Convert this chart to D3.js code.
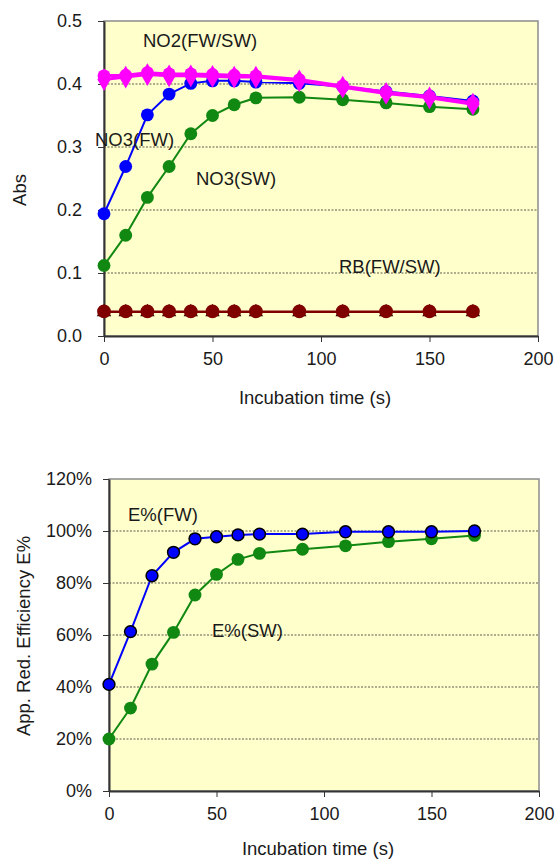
<!DOCTYPE html>
<html lang="en">
<head>
<meta charset="utf-8">
<style>
  body { margin: 0; background: #fff; }
  text { font-family: "Liberation Sans", Arial, sans-serif; fill: #1a1a1a; }
  .grid line { stroke: #333; stroke-dasharray: 2,1.5; stroke-width: 0.8; }
  .axis path, .axis line { stroke: #333; }
</style>
<script src="https://cdn.jsdelivr.net/npm/d3@7"></script>
</head>
<body>
<svg width="557" height="859"></svg>
<script>
// incubation times (s)
var times = [0, 10, 20, 30, 40, 50, 60, 70, 90, 110, 130, 150, 170];

// top chart: absorbance
var no2FW = [0.413, 0.414, 0.418, 0.416, 0.416, 0.415, 0.414, 0.413, 0.407, 0.397, 0.387, 0.380, 0.370];
var no2SW = [0.407, 0.411, 0.415, 0.413, 0.413, 0.412, 0.411, 0.411, 0.405, 0.395, 0.385, 0.378, 0.368];
var no3FW = [0.194, 0.269, 0.351, 0.384, 0.401, 0.405, 0.405, 0.403, 0.401, 0.396, 0.388, 0.381, 0.373];
var no3SW = [0.112, 0.160, 0.220, 0.269, 0.321, 0.350, 0.367, 0.378, 0.379, 0.375, 0.370, 0.364, 0.360];
var rbFW  = [0.039, 0.039, 0.039, 0.039, 0.039, 0.039, 0.039, 0.039, 0.039, 0.039, 0.039, 0.039, 0.039];
var rbSW  = [0.038, 0.038, 0.038, 0.038, 0.038, 0.038, 0.038, 0.038, 0.038, 0.038, 0.038, 0.038, 0.038];

// bottom chart: apparent reduction efficiency
var effFW = [0.41, 0.613, 0.828, 0.918, 0.970, 0.978, 0.985, 0.988, 0.988, 0.997, 0.997, 0.997, 1.0];
var effSW = [0.20, 0.319, 0.488, 0.610, 0.754, 0.833, 0.891, 0.914, 0.930, 0.943, 0.959, 0.970, 0.983];

var xTicks = [0, 50, 100, 150, 200];
var absTicks = [0, 0.1, 0.2, 0.3, 0.4, 0.5];
var effTicks = [0, 0.2, 0.4, 0.6, 0.8, 1.0, 1.2];

var svg = d3.select("svg");

function zip(ys) { return times.map(function(t, i) { return [t, ys[i]]; }); }

function panel(box, yDomain, yTicks, yFmt, yPad, titleOff) {
  var x = d3.scaleLinear().domain([0, 200]).range([box.left, box.right]);
  var y = d3.scaleLinear().domain(yDomain).range([box.bottom, box.top]);
  var g = svg.append("g");

  g.append("rect")
    .attr("x", box.left).attr("y", box.top)
    .attr("width", box.right - box.left).attr("height", box.bottom - box.top)
    .attr("fill", "#ffffcc").attr("stroke", "#8c8c8c").attr("stroke-width", 1.5);

  g.append("g").attr("class", "grid")
    .selectAll("line").data(yTicks.slice(1, -1)).enter().append("line")
    .attr("x1", box.left).attr("x2", box.right)
    .attr("y1", function(d) { return y(d); }).attr("y2", function(d) { return y(d); });

  var ax = g.append("g").attr("class", "axis")
    .attr("transform", "translate(0," + box.bottom + ")")
    .call(d3.axisBottom(x).tickValues(xTicks).tickSize(6).tickPadding(10).tickSizeOuter(0));
  var ay = g.append("g").attr("class", "axis")
    .attr("transform", "translate(" + box.left + ",0)")
    .call(d3.axisLeft(y).tickValues(yTicks).tickFormat(yFmt).tickSize(6).tickPadding(yPad).tickSizeOuter(0));
  [ax, ay].forEach(function(a) {
    a.select(".domain").attr("stroke-width", 2);
    a.selectAll("text").attr("font-size", 18).attr("fill", "#222")
      .style("font-family", "'Liberation Sans', Arial, sans-serif");
  });

  g.append("text")
    .attr("x", (box.left + box.right) / 2 - 6).attr("y", box.bottom + titleOff)
    .attr("text-anchor", "middle").attr("font-size", 18.5)
    .text("Incubation time (s)");
  return { g: g, x: x, y: y };
}

function series(p, ys, color, width, marker, stroke) {
  var pts = zip(ys);
  var line = d3.line().x(function(d) { return p.x(d[0]); }).y(function(d) { return p.y(d[1]); });
  p.g.append("path").datum(pts)
    .attr("fill", "none").attr("stroke", color).attr("stroke-width", width).attr("d", line);
  p.g.append("g").selectAll("path").data(pts).enter().append("path")
    .attr("transform", function(d) { return "translate(" + p.x(d[0]) + "," + p.y(d[1]) + ")"; })
    .attr("d", d3.symbol().type(marker.type).size(marker.size))
    .attr("fill", marker.fill || color)
    .attr("stroke", stroke || "none").attr("stroke-width", 1.5);
}

function label(p, txt, x, y) {
  p.g.append("text").attr("x", x).attr("y", y).attr("font-size", 18.5).text(txt);
}

// ---- top chart
var absPanel = panel({ left: 104, right: 538, top: 21, bottom: 336 }, [0, 0.5], absTicks, d3.format(".1f"), 16, 68);
series(absPanel, rbSW, "#7a0000", 2, { type: d3.symbolTriangle, size: 90, fill: "#2a0000" });
series(absPanel, rbFW, "#800000", 2, { type: d3.symbolCircle, size: 150 });
series(absPanel, no3SW, "#118811", 2, { type: d3.symbolCircle, size: 130 });
series(absPanel, no3FW, "#0000ff", 2, { type: d3.symbolCircle, size: 130 });
series(absPanel, no2SW, "#ff00ff", 3, { type: d3.symbolDiamond, size: 150 });
series(absPanel, no2FW, "#ff00ff", 3, { type: d3.symbolCircle, size: 130 });
label(absPanel, "NO2(FW/SW)", 143, 47);
label(absPanel, "NO3(FW)", 95, 146);
label(absPanel, "NO3(SW)", 196, 185);
label(absPanel, "RB(FW/SW)", 339, 273);

absPanel.g.append("text")
  .attr("transform", "translate(26,190) rotate(-90)")
  .attr("text-anchor", "middle").attr("font-size", 18.5).text("Abs");

// ---- bottom chart
var effPanel = panel({ left: 109, right: 539, top: 479, bottom: 791 }, [0, 1.2], effTicks, d3.format(".0%"), 11, 64);
series(effPanel, effSW, "#118811", 2, { type: d3.symbolCircle, size: 130 });
series(effPanel, effFW, "#0000ff", 2, { type: d3.symbolCircle, size: 110 }, "#000");
label(effPanel, "E%(FW)", 128, 521);
label(effPanel, "E%(SW)", 212, 637);

effPanel.g.append("text")
  .attr("transform", "translate(30,636) rotate(-90)")
  .attr("text-anchor", "middle").attr("font-size", 18.5).text("App. Red. Efficiency E%");
</script>
</body>
</html>
